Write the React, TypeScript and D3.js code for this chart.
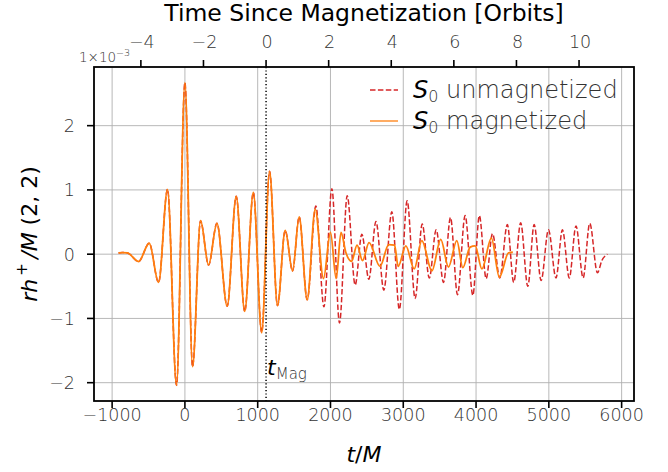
import React from "react";
import * as d3 from "d3";

// ---------- data (strain in units of 1e-3) ----------
const preT = [-912, -860, -790, -637, -490, -362, -239, -115, 0, 105, 215, 325, 440, 581, 705, 822, 940, 1055, 1163, 1272, 1378, 1479, 1570, 1680];
const preH = [0.02, 0.025, 0.02, -0.115, 0.17, -0.44, 1.01, -2.04, 2.67, -1.75, 0.52, -0.17, 0.48, -0.81, 0.9, -0.89, 0.96, -1.22, 1.29, -0.8, 0.37, -0.26, 0.58, -0.71];

const magT = [1790, 1904, 2000, 2078, 2145, 2210, 2290, 2365, 2440, 2530, 2680, 2800, 2880, 2930, 3035, 3150, 3255, 3393, 3515, 3621, 3736, 3818, 3919, 3988, 4080, 4211, 4320, 4445, 4505];
const magH = [0.7, -0.38, 0.34, -0.38, 0.34, 0.03, -0.11, 0.14, -0.1, 0.18, -0.19, 0.15, 0.14, -0.19, 0.13, -0.23, 0.21, -0.26, 0.23, -0.2, 0.21, -0.21, 0.11, 0.13, -0.23, 0.25, -0.36, 0.02, 0.03];

const unT = [1799, 1910, 2019, 2124, 2230, 2339, 2431, 2527, 2625, 2733, 2843, 2946, 3053, 3163, 3260, 3358, 3452, 3553, 3649, 3745, 3850, 3956, 4045, 4139, 4226, 4326, 4430, 4517, 4613, 4711, 4798, 4894, 4995, 5098, 5187, 5281, 5373, 5471, 5562, 5668, 5728, 5805];
const unH = [0.75, -0.82, 1.02, -1.07, 0.91, -0.48, 0.31, -0.39, 0.51, -0.56, 0.66, -0.86, 0.83, -0.69, 0.47, -0.37, 0.38, -0.44, 0.57, -0.63, 0.6, -0.64, 0.6, -0.38, 0.32, -0.37, 0.46, -0.44, 0.49, -0.5, 0.46, -0.41, 0.38, -0.37, 0.38, -0.37, 0.44, -0.37, 0.48, -0.29, -0.1, 0.0];

const xTicks = [-1000, 0, 1000, 2000, 3000, 4000, 5000, 6000];
const yTicks = [-2, -1, 0, 1, 2];
const orbitTicks = [-4, -2, 0, 2, 4, 6, 8, 10];
const T_MAG = 1115;
const ORBIT_PERIOD = 430;
const xDomain = [-1249, 6170];
const yDomain = [-2.285, 2.913];

const seriesNames = ["unmagnetized", "magnetized"];

const W = 668, H = 472;
const L = 94, R = 634, T = 67, B = 401;
const FONT = "DejaVu Sans, sans-serif";

const fmt = (v: number) => (v < 0 ? "\u2212" + Math.abs(v) : String(v));

export default function App() {
  const x = d3.scaleLinear().domain(xDomain).range([L, R]);
  const y = d3.scaleLinear().domain(yDomain).range([B, T]);
  const xTop = d3
    .scaleLinear()
    .domain(xDomain.map((t) => (t - T_MAG) / ORBIT_PERIOD))
    .range([L, R]);

  const line = d3
    .line<[number, number]>()
    .x((d) => x(d[0]))
    .y((d) => y(d[1]))
    .curve(d3.curveMonotoneX);

  const pre: [number, number][] = preT.map((t, i) => [t, preH[i]]);
  const red = pre.concat(unT.map((t, i) => [t, unH[i]] as [number, number]));
  const orange = pre.concat(magT.map((t, i) => [t, magH[i]] as [number, number]));

  const tickColor = "#333";
  const tickFont = 17.5;
  const lightW = 200;

  return (
    <svg width={W} height={H} style={{ position: "absolute", left: 0, top: 0, background: "#fff" }} fontFamily={FONT}>
      <defs>
        <clipPath id="plotclip">
          <rect x={L} y={T} width={R - L} height={B - T} />
        </clipPath>
      </defs>
      {/* grid */}
      {xTicks.map((t) => (
        <line key={"gx" + t} x1={x(t)} x2={x(t)} y1={T} y2={B} stroke="#b0b0b0" strokeWidth={0.9} />
      ))}
      {yTicks.map((v) => (
        <line key={"gy" + v} x1={L} x2={R} y1={y(v)} y2={y(v)} stroke="#b0b0b0" strokeWidth={0.9} />
      ))}

      {/* series */}
      <g clipPath="url(#plotclip)">
        <path d={line(red) || ""} fill="none" stroke="#d62728" strokeWidth={1.5} strokeDasharray="5.5,2.4" />
        <path d={line(orange) || ""} fill="none" stroke="#ff7f0e" strokeWidth={1.8} />
        <line x1={x(T_MAG)} x2={x(T_MAG)} y1={T} y2={B} stroke="#000" strokeWidth={1.5} strokeDasharray="1.2,2.2" />
      </g>

      {/* t_Mag label */}
      <text x={x(T_MAG) + 1} y={375} fontSize={22} fontStyle="italic" fill="#000">
        t
        <tspan fontStyle="normal" fontWeight={lightW} fontSize={15} dy={4} fill="#333">
          Mag
        </tspan>
      </text>

      {/* spines */}
      <rect x={L} y={T} width={R - L} height={B - T} fill="none" stroke="#000" strokeWidth={1.8} />

      {/* bottom axis */}
      {xTicks.map((t) => (
        <g key={"bx" + t}>
          <line x1={x(t)} x2={x(t)} y1={B} y2={B + 7} stroke="#000" strokeWidth={1.6} />
          <text x={x(t)} y={B + 20} textAnchor="middle" fontSize={tickFont} fontWeight={lightW} fill={tickColor}>
            {fmt(t)}
          </text>
        </g>
      ))}
      <text x={(L + R) / 2} y={462} textAnchor="middle" fontSize={22} fill="#000">
        <tspan fontStyle="italic">t</tspan>/<tspan fontStyle="italic">M</tspan>
      </text>

      {/* left axis */}
      {yTicks.map((v) => (
        <g key={"ly" + v}>
          <line x1={L - 7} x2={L} y1={y(v)} y2={y(v)} stroke="#000" strokeWidth={1.6} />
          <text x={L - 19} y={y(v) + 6.5} textAnchor="end" fontSize={tickFont} fontWeight={lightW} fill={tickColor}>
            {fmt(v)}
          </text>
        </g>
      ))}
      <text transform={`translate(37, ${(T + B) / 2}) rotate(-90)`} textAnchor="middle" fontSize={22} fill="#000">
        <tspan fontStyle="italic">rh</tspan>
        <tspan fontSize={15} dy={-10}>{"\u2009+"}</tspan>
        <tspan dy={10} fontStyle="italic">{"\u2009/M"}</tspan>
        <tspan>{" (2, 2)"}</tspan>
      </text>

      {/* offset text */}
      <text x={79} y={62} fontSize={13.5} fontWeight={lightW} fill={tickColor}>
        1×10<tspan fontSize={9.5} dy={-6}>{"\u22123"}</tspan>
      </text>

      {/* top axis */}
      {orbitTicks.map((o) => (
        <g key={"tx" + o}>
          <line x1={xTop(o)} x2={xTop(o)} y1={T} y2={T - 7} stroke="#000" strokeWidth={1.6} />
          <text x={xTop(o) + 1} y={T - 19} textAnchor="middle" fontSize={tickFont} fontWeight={lightW} fill={tickColor}>
            {fmt(o)}
          </text>
        </g>
      ))}
      <text x={(L + R) / 2} y={21} textAnchor="middle" fontSize={23.5} fill="#000">
        Time Since Magnetization [Orbits]
      </text>

      {/* legend */}
      {seriesNames.map((name, i) => {
        const ly = 90 + i * 31;
        return (
          <g key={name}>
            <line
              x1={370}
              x2={398}
              y1={ly}
              y2={ly}
              stroke={i === 0 ? "#d62728" : "#ff7f0e"}
              strokeWidth={1.3}
              strokeDasharray={i === 0 ? "5.5,2.4" : undefined}
            />
            <text x={413} y={ly + 7.5} fontSize={24} fontWeight={lightW} fill="#333">
              <tspan fontStyle="italic" fontWeight={400} fill="#000">S</tspan>
              <tspan fontSize={16} dy={4}>0</tspan>
              <tspan dy={-4}>{" " + name}</tspan>
            </text>
          </g>
        );
      })}
    </svg>
  );
}
